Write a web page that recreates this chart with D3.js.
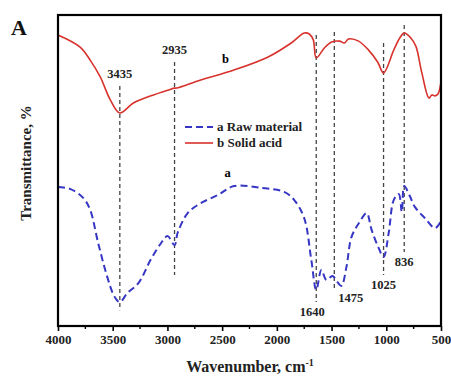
<!DOCTYPE html>
<html>
<head>
<meta charset="utf-8">
<script src="https://cdn.jsdelivr.net/npm/d3@7"></script>
<style>
  body { margin: 0; background: #fff; }
  svg { display: block; font-family: "Liberation Serif", "Times New Roman", serif; font-weight: bold; }
</style>
</head>
<body>
<svg id="chart" width="451" height="378"></svg>
<script>
// curve b: solid acid (wavenumber, transmittance)
const solidWn = [4000, 3798, 3706, 3614, 3522, 3435, 3311, 3127, 2990, 2935, 2916, 2696, 2392, 2080, 1869, 1750, 1704, 1667, 1640, 1566, 1500, 1428, 1382, 1345, 1253, 1162, 1079, 1025, 932, 877, 836, 776, 730, 675, 610, 583, 555, 528, 500];
const solidT = [93.6, 89.7, 85.5, 80.1, 72.7, 68.5, 71.7, 74.3, 75.9, 76.5, 76.5, 79.1, 82.3, 86.5, 91.0, 94.2, 93.9, 92.0, 86.2, 89.4, 91.3, 91.6, 91.0, 92.3, 91.6, 88.7, 84.9, 81.4, 88.7, 92.6, 94.2, 92.6, 90.0, 81.4, 73.3, 74.3, 74.0, 74.6, 78.5];

// curve a: raw material
const rawWn = [4000, 3890, 3770, 3706, 3633, 3550, 3486, 3435, 3366, 3265, 3155, 3063, 2999, 2935, 2907, 2815, 2696, 2539, 2392, 2144, 1933, 1841, 1750, 1685, 1640, 1593, 1547, 1492, 1446, 1410, 1364, 1318, 1244, 1180, 1134, 1070, 1025, 978, 932, 886, 858, 836, 785, 739, 647, 555, 500];
const rawT = [44.7, 44.1, 41.2, 37.3, 26.7, 15.8, 9.6, 7.7, 10.6, 13.8, 21.2, 26.4, 28.9, 26.0, 29.9, 36.3, 39.5, 42.1, 45.0, 44.4, 43.1, 40.5, 34.7, 21.2, 11.6, 18.0, 14.8, 16.1, 14.1, 12.9, 19.0, 28.6, 33.4, 36.3, 30.9, 25.1, 22.2, 29.9, 40.5, 42.4, 36.7, 45.0, 41.8, 38.3, 34.7, 31.5, 33.8];

// marked bands: position, line top/bottom (transmittance), label at top or bottom
const peaks = [3435, 2935, 1640, 1475, 1025, 836];
const peakTop = [77.2, 84.9, 93.6, 94.5, 91.0, 96.8];
const peakBottom = [5.1, 16.4, 7.7, 12.2, 16.4, 23.8];
const peakLabelAt = ["top", "top", "bottom", "bottom", "bottom", "bottom"];

const xTicks = [4000, 3500, 3000, 2500, 2000, 1500, 1000, 500];
const legendNames = ["a Raw material", "b Solid acid"];

const svg = d3.select("#chart");
const mLeft = 58, mRight = 441, mTop = 15, mBottom = 326;

const x = d3.scaleLinear().domain([4000, 500]).range([mLeft, mRight]);
const y = d3.scaleLinear().domain([0, 100]).range([mBottom, mTop]);

// peak guide lines
const peakData = peaks.map((p, i) => ({ p: p, t: peakTop[i], b: peakBottom[i], at: peakLabelAt[i] }));
svg.append("g").selectAll("line")
  .data(peakData)
  .enter().append("line")
  .attr("x1", d => x(d.p)).attr("x2", d => x(d.p))
  .attr("y1", d => y(d.t)).attr("y2", d => y(d.b))
  .attr("stroke", "#444")
  .attr("stroke-width", 1.3)
  .attr("stroke-dasharray", "4,3");

svg.append("g").selectAll("text")
  .data(peakData)
  .enter().append("text")
  .attr("x", d => x(d.p) + (d.p === 1475 ? 4 : (d.p === 1640 ? -4 : 0)))
  .attr("y", d => d.at === "top" ? y(d.t) - 8 : y(d.b) + 14)
  .attr("text-anchor", d => d.p === 1475 ? "start" : "middle")
  .attr("font-size", 12.5)
  .attr("fill", "#222")
  .text(d => d.p);

const line = d3.line().curve(d3.curveCatmullRom.alpha(0.5));

svg.append("path")
  .attr("d", line(solidWn.map((w, i) => [x(w), y(solidT[i])])))
  .attr("fill", "none")
  .attr("stroke", "#d7322c")
  .attr("stroke-width", 1.6);

svg.append("path")
  .attr("d", line(rawWn.map((w, i) => [x(w), y(rawT[i])])))
  .attr("fill", "none")
  .attr("stroke", "#3636c4")
  .attr("stroke-width", 2)
  .attr("stroke-dasharray", "7,4");

// curve labels
svg.append("text").attr("x", x(2470)).attr("y", y(84.5)).attr("font-size", 12.5).attr("text-anchor", "middle").text("b");
svg.append("text").attr("x", x(2450)).attr("y", y(48)).attr("font-size", 12.5).attr("text-anchor", "middle").text("a");

// frame
svg.append("rect")
  .attr("x", mLeft).attr("y", mTop)
  .attr("width", mRight - mLeft).attr("height", mBottom - mTop)
  .attr("fill", "none")
  .attr("stroke", "#000")
  .attr("stroke-width", 2.2);

// x axis
const xAxis = d3.axisBottom(x).tickValues(xTicks).tickFormat(d3.format("d"))
  .tickSize(5).tickSizeOuter(0).tickPadding(4);
const gx = svg.append("g").attr("transform", `translate(0,${mBottom})`).call(xAxis);
gx.select(".domain").remove();
gx.selectAll("line").attr("stroke", "#000").attr("stroke-width", 1.6);
gx.selectAll("text").attr("font-size", 13).attr("font-family", "Liberation Serif").attr("font-weight", "bold").attr("fill", "#222");

const minor = d3.range(3750, 500, -500);
svg.append("g").selectAll("line").data(minor).enter().append("line")
  .attr("x1", d => x(d)).attr("x2", d => x(d))
  .attr("y1", mBottom).attr("y2", mBottom + 3)
  .attr("stroke", "#000").attr("stroke-width", 1.4);

// axis titles
const xt = svg.append("text").attr("x", 250).attr("y", 372).attr("text-anchor", "middle").attr("font-size", 16).attr("fill", "#222");
xt.append("tspan").text("Wavenumber, cm");
xt.append("tspan").attr("dy", -6).attr("font-size", 10).text("-1");

svg.append("text")
  .attr("transform", "translate(31,163) rotate(-90)")
  .attr("text-anchor", "middle")
  .attr("font-size", 15)
  .attr("fill", "#222")
  .text("Transmittance, %");

svg.append("text").attr("x", 11).attr("y", 35).attr("font-size", 22).attr("fill", "#111").text("A");

// legend
const legend = svg.append("g");
legendNames.forEach((name, i) => {
  const ly = 127 + i * 16;
  legend.append("line")
    .attr("x1", 185).attr("x2", 213).attr("y1", ly).attr("y2", ly)
    .attr("stroke", i === 0 ? "#3636c4" : "#d7322c")
    .attr("stroke-width", i === 0 ? 2 : 1.6)
    .attr("stroke-dasharray", i === 0 ? "7,4" : null);
  legend.append("text")
    .attr("x", 217).attr("y", ly + 4)
    .attr("font-size", 13)
    .attr("fill", "#222")
    .text(name);
});
</script>
</body>
</html>
